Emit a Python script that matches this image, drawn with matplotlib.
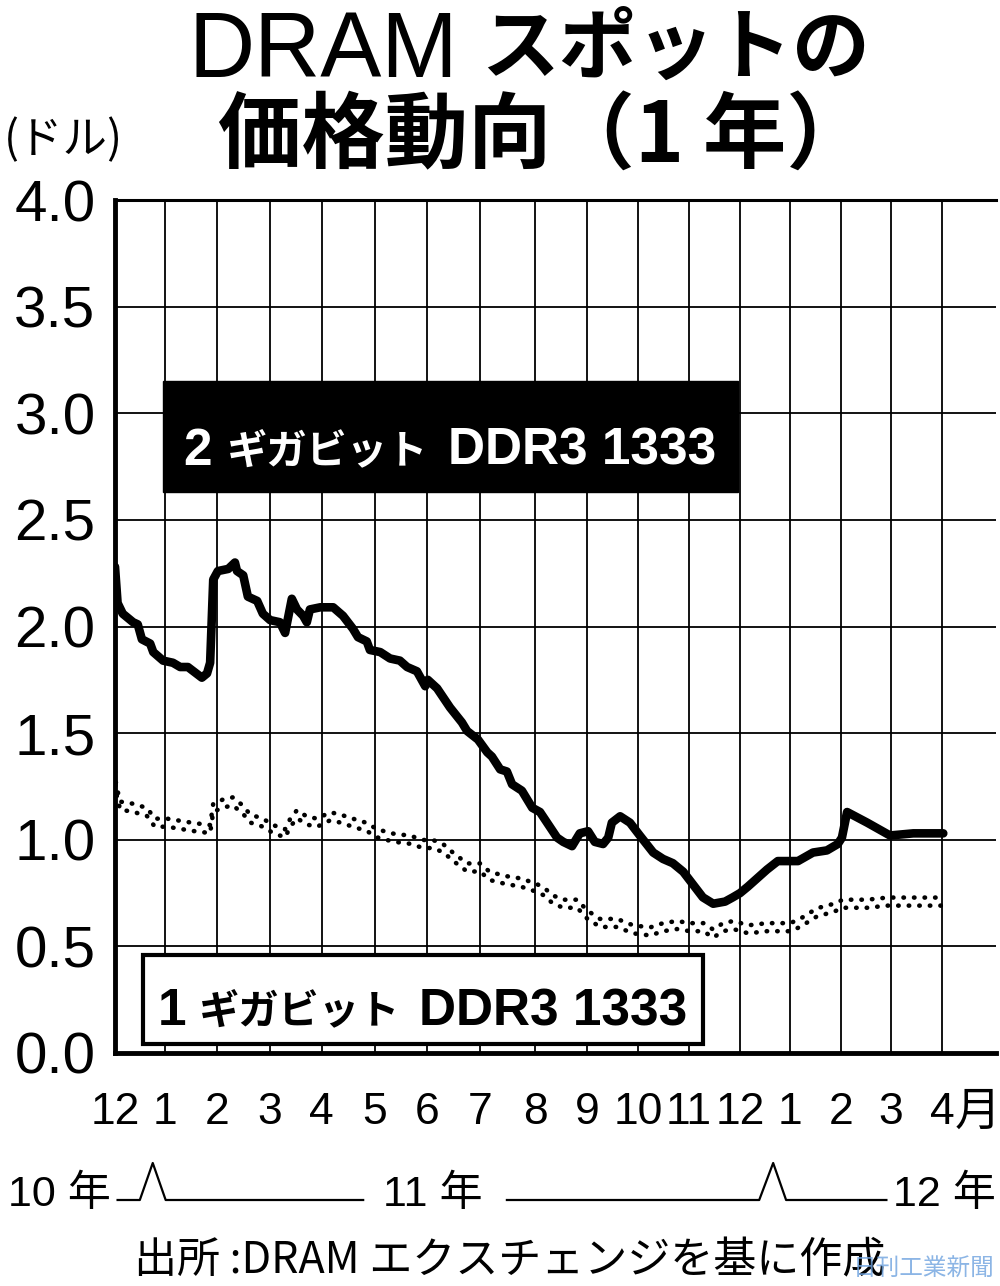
import matplotlib
matplotlib.use("Agg")
import matplotlib.pyplot as plt
from matplotlib import transforms
from matplotlib.patches import Rectangle


# month gridline positions (in month units, Dec 2010 = 0)
month_pos = [0.00, 0.97, 1.97, 3.00, 4.00, 5.03, 6.04, 7.06, 8.13, 9.13,
             10.12, 11.10, 12.09, 13.06, 14.05, 15.01, 16.00]
month_labels = ['12', '1', '2', '3', '4', '5', '6', '7', '8', '9',
                '10', '11', '12', '1', '2', '3', '4']
y_ticks = [0.0, 0.5, 1.0, 1.5, 2.0, 2.5, 3.0, 3.5, 4.0]

# 2 Gbit DDR3 1333 spot price (USD)
gb2_x = [0.00, 0.05, 0.15, 0.35, 0.44, 0.52, 0.68, 0.74, 0.93, 1.12,
         1.26, 1.41, 1.68, 1.78, 1.84, 1.90, 1.99, 2.19, 2.32, 2.36,
         2.48, 2.57, 2.75, 2.86, 3.00, 3.19, 3.29, 3.42, 3.52, 3.64,
         3.71, 3.77, 3.97, 4.22, 4.41, 4.60, 4.70, 4.87, 4.93, 5.13,
         5.32, 5.51, 5.65, 5.84, 6.00, 6.05, 6.23, 6.48, 6.71, 6.81,
         7.02, 7.20, 7.29, 7.45, 7.58, 7.68, 7.87, 8.07, 8.22, 8.55,
         8.67, 8.84, 8.99, 9.15, 9.28, 9.44, 9.54, 9.61, 9.77, 9.96,
         10.15, 10.41, 10.60, 10.79, 10.99, 11.18, 11.37, 11.57, 11.80, 11.95,
         12.09, 12.24, 12.61, 12.82, 13.21, 13.50, 13.77, 13.98, 14.06, 14.16,
         14.55, 14.99, 15.44, 16.02]
gb2_y = [2.28, 2.11, 2.06, 2.02, 2.01, 1.94, 1.92, 1.88, 1.84, 1.83,
         1.81, 1.81, 1.76, 1.78, 1.83, 2.22, 2.26, 2.27, 2.30, 2.26,
         2.24, 2.14, 2.12, 2.06, 2.03, 2.02, 1.97, 2.13, 2.08, 2.05,
         2.02, 2.08, 2.09, 2.09, 2.05, 1.99, 1.95, 1.93, 1.89, 1.88,
         1.85, 1.84, 1.81, 1.79, 1.72, 1.75, 1.71, 1.62, 1.55, 1.51,
         1.47, 1.41, 1.39, 1.33, 1.32, 1.26, 1.23, 1.15, 1.13, 1.01,
         0.99, 0.97, 1.03, 1.04, 0.99, 0.98, 1.01, 1.08, 1.11, 1.08,
         1.02, 0.94, 0.91, 0.89, 0.85, 0.79, 0.73, 0.70, 0.71, 0.73,
         0.75, 0.78, 0.86, 0.90, 0.90, 0.94, 0.95, 0.98, 1.01, 1.13,
         1.08, 1.02, 1.03, 1.03]

# 1 Gbit DDR3 1333 spot price (USD)
gb1_x = [0.00, 0.02, 0.10, 0.35, 0.62, 0.77, 1.01, 1.26, 1.51, 1.84,
         1.90, 2.09, 2.28, 2.48, 2.61, 2.86, 3.06, 3.29, 3.39, 3.52,
         3.71, 3.91, 4.16, 4.35, 4.60, 4.87, 5.07, 5.38, 5.71, 5.96,
         6.15, 6.35, 6.54, 6.81, 7.06, 7.25, 7.58, 7.84, 8.09, 8.28,
         8.47, 8.67, 8.94, 9.13, 9.38, 9.71, 10.02, 10.35, 10.60, 10.87,
         11.12, 11.38, 11.57, 11.76, 11.96, 12.25, 12.61, 13.06, 13.25, 13.58,
         13.89, 14.08, 14.55, 14.94, 15.44, 16.02]
gb1_y = [1.30, 1.24, 1.16, 1.15, 1.13, 1.08, 1.08, 1.07, 1.06, 1.05,
         1.15, 1.17, 1.18, 1.14, 1.10, 1.08, 1.05, 1.03, 1.08, 1.12,
         1.09, 1.08, 1.11, 1.10, 1.08, 1.06, 1.03, 1.01, 1.00, 0.98,
         0.98, 0.96, 0.92, 0.87, 0.87, 0.83, 0.81, 0.80, 0.78, 0.76,
         0.72, 0.70, 0.70, 0.65, 0.61, 0.61, 0.58, 0.57, 0.59, 0.60,
         0.59, 0.59, 0.56, 0.59, 0.60, 0.58, 0.59, 0.59, 0.61, 0.66,
         0.68, 0.70, 0.70, 0.71, 0.71, 0.71]

W, H = 1000, 1286
LATIN = ['Liberation Sans', 'Noto Sans CJK JP']
CJK = ['Noto Sans CJK JP', 'DejaVu Sans']


def fx(px):
    return px / W


def fy(py):
    return 1 - py / H


def box_label(fig, parts, baseline, color):
    # parts: (text, family, size, left edge in px, baseline shift in px)
    for txt, fam, size, left, lift in parts:
        fig.text(fx(left), fy(baseline - lift), txt, family=fam, fontsize=size,
                 weight='bold', color=color, ha='left', va='baseline', zorder=10)


def main():
    plt.rcParams['font.family'] = CJK
    fig = plt.figure(figsize=(W / 100, H / 100), dpi=100)
    ax = fig.add_axes([fx(115), fy(1053), fx(996) - fx(115), fy(200) - fy(1053)])

    ax.set_xlim(0, 17.04)
    ax.set_ylim(0, 4)

    # grid
    ax.set_axisbelow(True)
    ax.set_xticks(month_pos)
    ax.set_xticklabels(month_labels, family=LATIN, fontsize=32)
    ax.set_yticks(y_ticks)
    ax.set_yticklabels(['%.1f' % v for v in y_ticks], family=LATIN, fontsize=42)
    ax.tick_params(axis='both', length=0)
    ax.tick_params(axis='y', pad=14)
    ax.tick_params(axis='x', pad=28)
    ax.grid(True, color='black', lw=1.3)

    for s in ['left', 'bottom']:
        ax.spines[s].set_linewidth(3.5)
    ax.spines['top'].set_linewidth(2.2)
    ax.spines['right'].set_visible(False)

    # series
    ax.plot(gb2_x, gb2_y, color='black', lw=6.2, solid_joinstyle='round',
            solid_capstyle='round', zorder=4)
    up = transforms.offset_copy(ax.transData, fig=fig, x=0, y=2.9, units='points')
    down = transforms.offset_copy(ax.transData, fig=fig, x=0, y=-2.9, units='points')
    ax.plot(gb1_x, gb1_y, color='black', lw=3.3, ls=(0, (0.1, 2.2)),
            dash_capstyle='round', transform=up, zorder=4)
    ax.plot(gb1_x, gb1_y, color='black', lw=3.3, ls=(1.15, (0.1, 2.2)),
            dash_capstyle='round', transform=down, zorder=4)

    # labelled boxes
    ax.add_patch(Rectangle((0.0545, 0.6577), 0.6525, 0.1301, transform=ax.transAxes,
                           facecolor='black', edgecolor='black', zorder=3))
    box_label(fig, [('2', LATIN, 37, 183, 0), ('ギガビット', CJK, 29, 227, 2),
                    ('DDR3 1333', LATIN, 37, 448, 0)], 465, 'white')
    ax.add_patch(Rectangle((0.0318, 0.0106), 0.6356, 0.1043, transform=ax.transAxes,
                           facecolor='white', edgecolor='black', lw=3, zorder=3))
    box_label(fig, [('1', LATIN, 37, 158, 0), ('ギガビット', CJK, 29, 199, 2),
                    ('DDR3 1333', LATIN, 37, 419, 0)], 1025, 'black')

    # title
    fig.text(fx(188), fy(77), 'DRAM', family=LATIN, fontsize=66, ha='left', va='baseline')
    fig.text(fx(870), fy(50), 'スポットの', family=CJK, fontsize=56, weight='bold',
             ha='right', va='center')
    fig.text(fx(218), fy(137), '価格動向（1 年）', family=CJK, fontsize=60, weight='bold',
             ha='left', va='center')
    fig.text(fx(63), fy(140), '(ドル)', family=CJK, fontsize=32, ha='center', va='center')

    # month unit and year row
    fig.text(fx(978), fy(1112), '月', family=CJK, fontsize=33, ha='center', va='center')
    fig.text(fx(8), fy(1195), '10 年', family=LATIN, fontsize=31, ha='left', va='center')
    fig.text(fx(433), fy(1195), '11 年', family=LATIN, fontsize=31, ha='center', va='center')
    fig.text(fx(996), fy(1195), '12 年', family=LATIN, fontsize=31, ha='right', va='center')

    yr = transforms.blended_transform_factory(ax.transData, fig.transFigure)
    base, peak = fy(1200), fy(1163)
    fig.add_artist(plt.Line2D([0.05, 0.48, 0.73, 0.98, 4.80], [base, base, peak, base, base],
                              transform=yr, color='black', lw=1.6))
    fig.add_artist(plt.Line2D([7.58, 12.46, 12.73, 12.98, 14.92], [base, base, peak, base, base],
                              transform=yr, color='black', lw=1.6))

    # source and credit
    fig.text(fx(510), fy(1261), '出所 :DRAM エクスチェンジを基に作成', family=CJK,
             fontsize=31, ha='center', va='center')
    fig.text(fx(995), fy(1269), '日刊工業新聞', family=CJK, fontsize=17, color='#6fa3df',
             alpha=0.8, ha='right', va='center', zorder=10)

    fig.savefig('out.png', dpi=100)


if __name__ == "__main__":
    main()
